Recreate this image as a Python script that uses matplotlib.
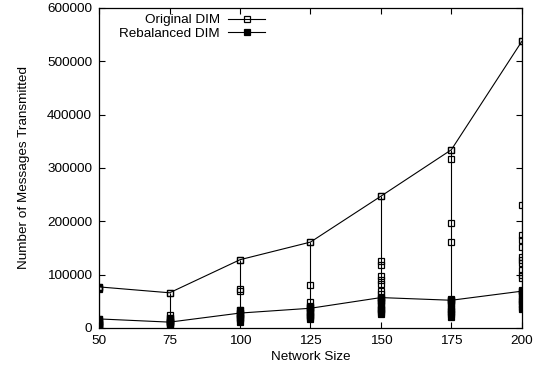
import numpy as np
import matplotlib.pyplot as plt

plt.rcParams['font.family'] = ['Liberation Sans', 'DejaVu Sans']

sizes = [50, 75, 100, 125, 150, 175, 200]

# per-run message counts for each network size
original_runs = [
    [77000, 75000, 74000, 12000, 8000, 5000],
    [66000, 24000, 19000, 14000, 9000],
    [128000, 73000, 70000, 34000, 25000, 18000],
    [161000, 81000, 49000, 40000, 30000, 22000],
    [247000, 125000, 118000, 97000, 90000, 83000, 70000, 64000, 50000, 35000],
    [334000, 316000, 197000, 161000, 50000, 30000],
    [537000, 230000, 174000, 165000, 152000, 133000, 127000, 122000,
     109000, 99000, 94000, 70000, 50000],
]
rebalanced_runs = [
    [17000, 14000, 11000, 8000, 5000, 3000, 1000],
    [11000, 18000, 15000, 12000, 8000, 6000],
    [34000, 28000, 24000, 20000, 16000, 12000],
    [41000, 37000, 33000, 29000, 25000, 21000, 16000],
    [57000, 53000, 48000, 43000, 38000, 34000, 30000, 26000],
    [52000, 55000, 47000, 42000, 36000, 31000, 26000, 21000],
    [71000, 66000, 61000, 55000, 50000, 45000, 40000, 35000],
]
original_line = [77000, 66000, 128000, 161000, 247000, 334000, 537000]
rebalanced_line = [17000, 11000, 28000, 37000, 57000, 52000, 69000]

FS = 9.7

fig = plt.figure(figsize=(5.39, 3.74), dpi=100)
ax = fig.add_axes([0.184, 0.123, 0.784, 0.856])

# range bar at each size
for x, o, r in zip(sizes, original_runs, rebalanced_runs):
    lo = min(min(o), min(r))
    hi = max(o)
    ax.vlines(x, lo, hi, color='black', lw=0.8, zorder=1)

for x, o in zip(sizes, original_runs):
    ax.plot([x] * len(o), o, ls='none', marker='s', ms=4.2, mfc='none',
            mec='black', mew=0.9, zorder=3)
for x, r in zip(sizes, rebalanced_runs):
    ax.plot([x] * len(r), r, ls='none', marker='s', ms=4.2, mfc='black',
            mec='black', mew=0.9, zorder=3)

ax.plot(sizes, original_line, color='black', lw=0.8, marker='s', ms=4.2,
        mfc='none', mec='black', mew=0.9, label='Original DIM', zorder=2)
ax.plot(sizes, rebalanced_line, color='black', lw=0.8, marker='s', ms=4.2,
        mfc='black', mec='black', mew=0.9, label='Rebalanced DIM', zorder=2)

ax.set_xlim(50, 200)
ax.set_ylim(0, 600000)
ax.set_xticks(sizes)
ax.set_yticks(np.arange(0, 600001, 100000))
ax.tick_params(direction='in', top=True, right=True, length=4, width=0.8,
               labelsize=FS)
ax.tick_params(axis='x', pad=5)
ax.tick_params(axis='y', pad=5)
for s in ax.spines.values():
    s.set_linewidth(0.9)

ax.set_xlabel('Network Size', fontsize=FS, labelpad=3)
ax.set_ylabel('Number of Messages Transmitted', fontsize=FS, labelpad=12)

fig.legend(loc='upper right', bbox_to_anchor=(0.4917, 0.9626), frameon=False,
           markerfirst=False, fontsize=FS, handlelength=2.75,
           handletextpad=0.6, labelspacing=0.1, borderpad=0,
           borderaxespad=0)

fig.savefig('out.png', dpi=100)
